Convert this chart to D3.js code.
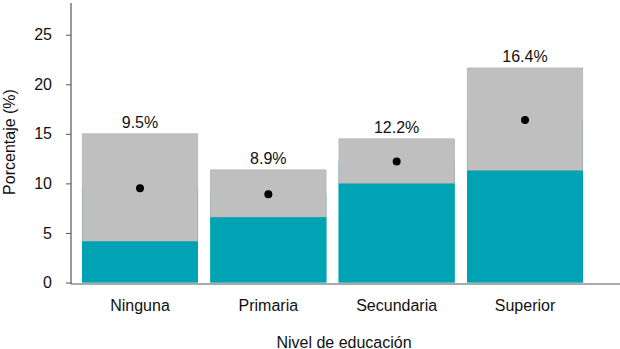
<!DOCTYPE html>
<html><head><meta charset="utf-8">
<script src="https://cdn.jsdelivr.net/npm/d3@7"></script>
<style>body{margin:0;background:#fff}svg{display:block}text{font-family:"Liberation Sans",Arial,sans-serif;fill:#111}</style>
</head><body><svg id="c" width="620" height="349"></svg>
<script>
const categories = ["Ninguna","Primaria","Secundaria","Superior"];
const estimate = [9.5, 8.9, 12.2, 16.4];
const lower = [4.15, 6.58, 9.98, 11.29];
const upper = [15.0, 11.36, 14.49, 21.64];
const labels = ["9.5%","8.9%","12.2%","16.4%"];
const yTicks = [0,5,10,15,20,25];

const svg = d3.select("#c");
const x = d3.scaleBand().domain(categories).range([82, 583]).paddingInner(0.096).paddingOuter(0);
const y = d3.scaleLinear().domain([0, 28.2]).range([282.5, 3]);
const data = categories.map((c,i)=>({c, est:estimate[i], lo:lower[i], hi:upper[i], lab:labels[i]}));

const teal = "#00a3b3", grey = "#bfbfbf";
const FS = 16;
// estimate bar (underlay)
svg.append("g").selectAll("rect").data(data).join("rect")
  .attr("x", d=>x(d.c)).attr("width", x.bandwidth())
  .attr("y", d=>y(d.est)).attr("height", d=>y(0)-y(d.est)).attr("fill", teal);
// CI grey
svg.append("g").selectAll("rect").data(data).join("rect")
  .attr("x", d=>x(d.c)+0.3).attr("width", x.bandwidth()-0.6)
  .attr("y", d=>y(d.hi)).attr("height", d=>y(d.lo)-y(d.hi)).attr("fill", grey)
  .attr("stroke","#b3b3b3").attr("stroke-width",0.8);
// lower teal
svg.append("g").selectAll("rect").data(data).join("rect")
  .attr("x", d=>x(d.c)).attr("width", x.bandwidth())
  .attr("y", d=>y(d.lo)).attr("height", d=>y(0)-y(d.lo)).attr("fill", teal);
// dots
svg.append("g").selectAll("circle").data(data).join("circle")
  .attr("cx", d=>x(d.c)+x.bandwidth()/2).attr("cy", d=>y(d.est)).attr("r", 4).attr("fill","#000");
// value labels
svg.append("g").selectAll("text").data(data).join("text")
  .attr("x", d=>x(d.c)+x.bandwidth()/2).attr("y", d=>y(d.hi)-6)
  .attr("text-anchor","middle").attr("font-size", FS).text(d=>d.lab);

// y axis
const ya = svg.append("g").attr("transform","translate(71,0)")
  .call(d3.axisLeft(y).tickValues(yTicks).tickSize(5).tickPadding(14));
ya.select(".domain").attr("stroke","#555").attr("stroke-width",1.2).attr("d","M0,3V284");
ya.selectAll(".tick line").attr("stroke","#555");
ya.selectAll(".tick text").attr("font-size",FS).attr("font-family","Liberation Sans, Arial, sans-serif").attr("fill","#111");

// x axis
const xa = svg.append("g").attr("transform","translate(0,284)")
  .call(d3.axisBottom(x).tickSize(0).tickPadding(16));
xa.select(".domain").attr("stroke","#555").attr("stroke-width",1.2).attr("d","M71,0H620");
xa.selectAll(".tick text").attr("font-size",FS).attr("font-family","Liberation Sans, Arial, sans-serif").attr("fill","#111");

svg.append("text").attr("x", 344).attr("y", 347.5).attr("text-anchor","middle").attr("font-size",FS).text("Nivel de educación");
svg.append("text").attr("transform","translate(15,142) rotate(-90)").attr("text-anchor","middle").attr("font-size",FS).text("Porcentaje (%)");
</script></body></html>
